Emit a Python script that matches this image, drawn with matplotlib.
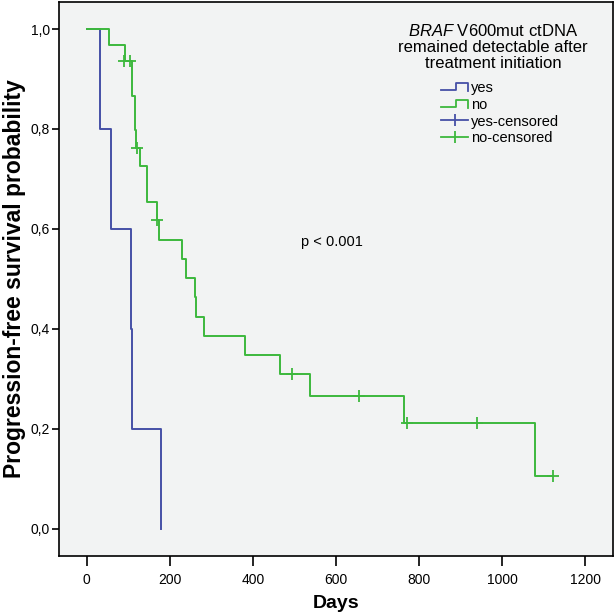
import matplotlib
matplotlib.use("Agg")
import matplotlib.pyplot as plt
from matplotlib.lines import Line2D
from matplotlib.legend_handler import HandlerBase

plt.rcParams['font.family'] = ['Liberation Sans', 'DejaVu Sans']
plt.rcParams['mathtext.fontset'] = 'custom'
plt.rcParams['mathtext.it'] = 'Liberation Sans:italic'
plt.rcParams['mathtext.rm'] = 'Liberation Sans'

# ---- data ----
yes_times = [0, 32, 57, 106, 108, 178]
yes_surv = [1.0, 0.8, 0.6, 0.4, 0.2, 0.0]

no_times = [0, 54, 92, 108, 109, 116, 119, 128, 144, 146, 170, 174, 230, 238,
            260, 264, 283, 382, 465, 537, 764, 1079]
no_surv = [1.0, 0.968, 0.935, 0.901, 0.866, 0.797, 0.762, 0.726, 0.690, 0.653,
           0.617, 0.578, 0.540, 0.501, 0.463, 0.424, 0.386, 0.347, 0.309,
           0.265, 0.212, 0.106]
no_end = 1122

no_cens_times = [89, 105, 120, 168, 493, 655, 770, 939, 1122]
no_cens_surv = [0.935, 0.935, 0.762, 0.617, 0.309, 0.265, 0.212, 0.212, 0.106]

x_ticks = [0, 200, 400, 600, 800, 1000, 1200]
y_ticks = [0.0, 0.2, 0.4, 0.6, 0.8, 1.0]
y_tick_labels = ["0,0", "0,2", "0,4", "0,6", "0,8", "1,0"]

legend_title = ["$\\mathit{BRAF}$ V600mut ctDNA",
                "remained detectable after",
                "treatment initiation"]
legend_labels = ["yes", "no", "yes-censored", "no-censored"]
p_text = "p < 0.001"

BLUE = "#4650a6"
GREEN = "#3db83d"

fig = plt.figure(figsize=(6.15, 6.15), dpi=100)
ax = fig.add_axes([0.0967, 0.0959, 0.8993, 0.9008])
ax.set_facecolor("#f2f3f3")

# yes curve (ends with drop to 0, no horizontal after)
ax.step(yes_times, yes_surv, where="post", color=BLUE, lw=1.4)
# no curve
ax.step(no_times + [no_end], no_surv + [no_surv[-1]], where="post", color=GREEN, lw=1.4)
ax.plot(no_cens_times, no_cens_surv, linestyle="none", marker="+",
        markersize=9, mew=1.3, color=GREEN)

ax.set_xlim(-66, 1266)
ax.set_ylim(-0.0546, 1.054)
ax.set_xticks(x_ticks)
ax.set_yticks(y_ticks)
ax.set_yticklabels(y_tick_labels)
ax.tick_params(axis="x", direction="out", length=7, width=1.2, labelsize=10, pad=5)
ax.tick_params(axis="y", direction="out", length=5, width=1.2, labelsize=10, pad=2)
for s in ax.spines.values():
    s.set_linewidth(1.2)
    s.set_color("black")

ax.set_xlabel("Days", fontsize=14, fontweight="bold", labelpad=6)
ax.set_ylabel("Progression-free survival probability", fontsize=16.5,
              fontweight="bold", labelpad=3)

ax.text(590, 0.574, p_text, fontsize=10.5, ha="center", va="center")

# legend title
ax.text(0.784, 0.963, "\n".join(legend_title), transform=ax.transAxes,
        ha="center", va="top", fontsize=12, linespacing=1.12)


class StepHandler(HandlerBase):
    def create_artists(self, legend, orig_handle, xdescent, ydescent,
                       width, height, fontsize, trans):
        x0, y0 = -xdescent, -ydescent
        xs = [x0, x0 + 0.55 * width, x0 + 0.55 * width, x0 + width, x0 + width]
        ys = [y0 + 0.15 * height, y0 + 0.15 * height, y0 + 0.85 * height,
              y0 + 0.85 * height, y0 + 0.1 * height]
        ln = Line2D(xs, ys, color=orig_handle.get_color(), lw=1.3)
        ln.set_transform(trans)
        return [ln]


h_yes = Line2D([], [], color=BLUE)
h_no = Line2D([], [], color=GREEN)
h_yc = Line2D([], [], color=BLUE, lw=1.3, marker="|", markersize=9, mew=1.3)
h_nc = Line2D([], [], color=GREEN, lw=1.3, marker="|", markersize=9, mew=1.3)
ax.legend([h_yes, h_no, h_yc, h_nc], legend_labels,
          handler_map={h_yes: StepHandler(), h_no: StepHandler()},
          loc="upper left", bbox_to_anchor=(0.69, 0.858), frameon=False,
          fontsize=10.5, handlelength=1.85, handletextpad=0.2,
          labelspacing=0.2, borderpad=0, borderaxespad=0, numpoints=1)

fig.savefig("out.png", dpi=100)
